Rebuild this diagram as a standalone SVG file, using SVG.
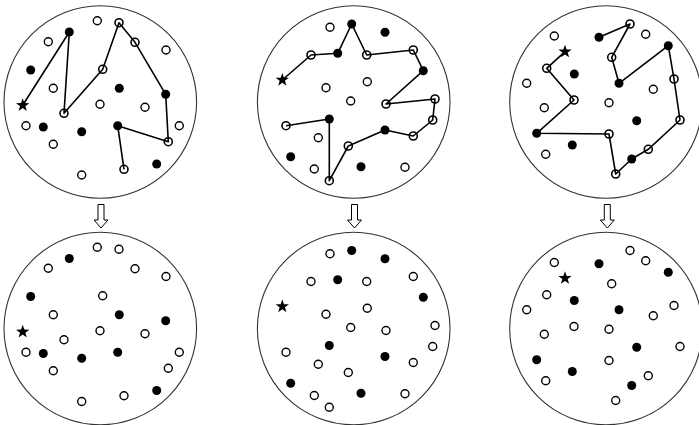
<svg xmlns="http://www.w3.org/2000/svg" width="699" height="425" viewBox="0 0 699 425">
<style>
.panel{fill:#fff;stroke:#333;stroke-width:1.1}
.o{fill:#fff;stroke:#000;stroke-width:1.4}
.p{fill:none;stroke:#000;stroke-width:1.6}
.f{fill:#000}
.path{fill:none;stroke:#000;stroke-width:1.6;stroke-linejoin:round}
.arrow{fill:#fff;stroke:#000;stroke-width:1}
</style>
<defs>
<path id="star" d="M0,-7 L1.65,-2.27 L6.66,-2.16 L2.66,0.87 L4.11,5.66 L0,2.8 L-4.11,5.66 L-2.66,0.87 L-6.66,-2.16 L-1.65,-2.27 Z" fill="#000"/>
</defs>
<rect width="699" height="425" fill="#fff"/>

<g id="panel-1-top">
<circle class="panel" cx="100.3" cy="102" r="96.3"/>
</g>
<g id="panel-2-top">
<circle class="panel" cx="353.7" cy="102" r="96.3"/>
</g>
<g id="panel-3-top">
<circle class="panel" cx="606" cy="102" r="96.3"/>
</g>

<g id="connectors">
<polyline class="path" points="22.7,105.3 69.3,32 64,113.3 102.7,69.3 119,22.7 135,42.3 165.7,94.3 168.3,141.7 117.7,125.7 124,169.3"/>
<polyline class="path" points="282.3,80 311,55 337.7,53.3 351.7,24 366.7,55 413.3,50 423.3,70.7 386,104 435,99 432.7,120 413.3,136 385,130 348.3,146 329.3,180.7 329.3,119 286,125.7"/>
<polyline class="path" points="599,37.3 630,24 611.7,57.3 619,83.3 668.3,45.7 674,79 680,120 648.3,149.3 631.7,159 615.7,174 609,134 536.7,133.3 574,100 546.7,68.3 565,51.7"/>
<polygon class="arrow" points="98,204.5 104,204.5 104,220 108,220 101,228 94,220 98,220"/>
<polygon class="arrow" points="351.5,204.5 357.5,204.5 357.5,220 361.5,220 354.5,228 347.5,220 351.5,220"/>
<polygon class="arrow" points="604.3,204.5 610.3,204.5 610.3,220 614.3,220 607.3,228 600.3,220 604.3,220"/>
</g>

<g id="nodes-1-top">
<circle class="o" cx="97.3" cy="20.7" r="4"/><circle class="o" cx="48.3" cy="41.7" r="4"/><circle class="o" cx="166" cy="50" r="4"/><circle class="o" cx="53.3" cy="88.3" r="4"/><circle class="o" cx="100" cy="104.3" r="4"/><circle class="o" cx="145" cy="107.3" r="4"/><circle class="o" cx="26" cy="125.7" r="4"/><circle class="o" cx="179.3" cy="125.7" r="4"/><circle class="o" cx="53.3" cy="144.3" r="4"/><circle class="o" cx="81.7" cy="175" r="4"/>
<circle class="p" cx="119" cy="22.7" r="4"/><circle class="p" cx="135" cy="42.3" r="4"/><circle class="p" cx="102.7" cy="69.3" r="4"/><circle class="p" cx="64" cy="113.3" r="4"/><circle class="p" cx="168.3" cy="141.7" r="4"/><circle class="p" cx="124" cy="169.3" r="4"/>
<circle class="f" cx="69.3" cy="32" r="4.5"/><circle class="f" cx="30.7" cy="70" r="4.5"/><circle class="f" cx="119.3" cy="88.3" r="4.5"/><circle class="f" cx="165.7" cy="94.3" r="4.5"/><circle class="f" cx="43.3" cy="127" r="4.5"/><circle class="f" cx="81.7" cy="131.7" r="4.5"/><circle class="f" cx="117.7" cy="125.7" r="4.5"/><circle class="f" cx="156.7" cy="164" r="4.5"/>
<use href="#star" x="22.7" y="105.3"/>
</g>

<g id="nodes-2-top">
<circle class="o" cx="330" cy="27.3" r="4"/><circle class="o" cx="326" cy="87.7" r="4"/><circle class="o" cx="367.3" cy="81.7" r="4"/><circle class="o" cx="350.7" cy="101" r="4"/><circle class="o" cx="318.3" cy="137.7" r="4"/><circle class="o" cx="314.3" cy="169" r="4"/><circle class="o" cx="405" cy="167.3" r="4"/>
<circle class="p" cx="311" cy="55" r="4"/><circle class="p" cx="366.7" cy="55" r="4"/><circle class="p" cx="413.3" cy="50" r="4"/><circle class="p" cx="386" cy="104" r="4"/><circle class="p" cx="435" cy="99" r="4"/><circle class="p" cx="432.7" cy="120" r="4"/><circle class="p" cx="413.3" cy="136" r="4"/><circle class="p" cx="348.3" cy="146" r="4"/><circle class="p" cx="329.3" cy="180.7" r="4"/><circle class="p" cx="286" cy="125.7" r="4"/>
<circle class="f" cx="385" cy="32.3" r="4.5"/><circle class="f" cx="290.7" cy="156.7" r="4.5"/><circle class="f" cx="361" cy="166.7" r="4.5"/><circle class="f" cx="337.7" cy="53.3" r="4.5"/><circle class="f" cx="351.7" cy="24" r="4.5"/><circle class="f" cx="423.3" cy="70.7" r="4.5"/><circle class="f" cx="385" cy="130" r="4.5"/><circle class="f" cx="329.3" cy="119" r="4.5"/>
<use href="#star" x="282.3" y="80"/>
</g>

<g id="nodes-3-top">
<circle class="o" cx="554.3" cy="36" r="4"/><circle class="o" cx="645.7" cy="34.3" r="4"/><circle class="o" cx="526.7" cy="83.3" r="4"/><circle class="o" cx="653.3" cy="89.3" r="4"/><circle class="o" cx="544.3" cy="107.7" r="4"/><circle class="o" cx="609" cy="102.7" r="4"/><circle class="o" cx="545.7" cy="154.3" r="4"/>
<circle class="p" cx="630" cy="24" r="4"/><circle class="p" cx="611.7" cy="57.3" r="4"/><circle class="p" cx="674" cy="79" r="4"/><circle class="p" cx="680" cy="120" r="4"/><circle class="p" cx="648.3" cy="149.3" r="4"/><circle class="p" cx="615.7" cy="174" r="4"/><circle class="p" cx="609" cy="134" r="4"/><circle class="p" cx="574" cy="100" r="4"/><circle class="p" cx="546.7" cy="68.3" r="4"/>
<circle class="f" cx="574.3" cy="74" r="4.5"/><circle class="f" cx="636.7" cy="120.7" r="4.5"/><circle class="f" cx="572.3" cy="145" r="4.5"/><circle class="f" cx="599" cy="37.3" r="4.5"/><circle class="f" cx="619" cy="83.3" r="4.5"/><circle class="f" cx="668.3" cy="45.7" r="4.5"/><circle class="f" cx="631.7" cy="159" r="4.5"/><circle class="f" cx="536.7" cy="133.3" r="4.5"/>
<use href="#star" x="565" y="51.7"/>
</g>

<g id="panel-1-bottom" transform="translate(0,226.5)">
<circle class="panel" cx="100.3" cy="102" r="96.3"/>
<circle class="o" cx="97.3" cy="20.7" r="4"/><circle class="o" cx="48.3" cy="41.7" r="4"/><circle class="o" cx="166" cy="50" r="4"/><circle class="o" cx="53.3" cy="88.3" r="4"/><circle class="o" cx="100" cy="104.3" r="4"/><circle class="o" cx="145" cy="107.3" r="4"/><circle class="o" cx="26" cy="125.7" r="4"/><circle class="o" cx="179.3" cy="125.7" r="4"/><circle class="o" cx="53.3" cy="144.3" r="4"/><circle class="o" cx="81.7" cy="175" r="4"/>
<circle class="o" cx="119" cy="22.7" r="4"/><circle class="o" cx="135" cy="42.3" r="4"/><circle class="o" cx="102.7" cy="69.3" r="4"/><circle class="o" cx="64" cy="113.3" r="4"/><circle class="o" cx="168.3" cy="141.7" r="4"/><circle class="o" cx="124" cy="169.3" r="4"/>
<circle class="f" cx="69.3" cy="32" r="4.5"/><circle class="f" cx="30.7" cy="70" r="4.5"/><circle class="f" cx="119.3" cy="88.3" r="4.5"/><circle class="f" cx="165.7" cy="94.3" r="4.5"/><circle class="f" cx="43.3" cy="127" r="4.5"/><circle class="f" cx="81.7" cy="131.7" r="4.5"/><circle class="f" cx="117.7" cy="125.7" r="4.5"/><circle class="f" cx="156.7" cy="164" r="4.5"/>
<use href="#star" x="22.7" y="105.3"/>
</g>

<g id="panel-2-bottom" transform="translate(0,226.5)">
<circle class="panel" cx="353.7" cy="102" r="96.3"/>
<circle class="o" cx="330" cy="27.3" r="4"/><circle class="o" cx="326" cy="87.7" r="4"/><circle class="o" cx="367.3" cy="81.7" r="4"/><circle class="o" cx="350.7" cy="101" r="4"/><circle class="o" cx="318.3" cy="137.7" r="4"/><circle class="o" cx="314.3" cy="169" r="4"/><circle class="o" cx="405" cy="167.3" r="4"/>
<circle class="o" cx="311" cy="55" r="4"/><circle class="o" cx="366.7" cy="55" r="4"/><circle class="o" cx="413.3" cy="50" r="4"/><circle class="o" cx="386" cy="104" r="4"/><circle class="o" cx="435" cy="99" r="4"/><circle class="o" cx="432.7" cy="120" r="4"/><circle class="o" cx="413.3" cy="136" r="4"/><circle class="o" cx="348.3" cy="146" r="4"/><circle class="o" cx="329.3" cy="180.7" r="4"/><circle class="o" cx="286" cy="125.7" r="4"/>
<circle class="f" cx="385" cy="32.3" r="4.5"/><circle class="f" cx="290.7" cy="156.7" r="4.5"/><circle class="f" cx="361" cy="166.7" r="4.5"/><circle class="f" cx="337.7" cy="53.3" r="4.5"/><circle class="f" cx="351.7" cy="24" r="4.5"/><circle class="f" cx="423.3" cy="70.7" r="4.5"/><circle class="f" cx="385" cy="130" r="4.5"/><circle class="f" cx="329.3" cy="119" r="4.5"/>
<use href="#star" x="282.3" y="80"/>
</g>

<g id="panel-3-bottom" transform="translate(0,226.5)">
<circle class="panel" cx="606" cy="102" r="96.3"/>
<circle class="o" cx="554.3" cy="36" r="4"/><circle class="o" cx="645.7" cy="34.3" r="4"/><circle class="o" cx="526.7" cy="83.3" r="4"/><circle class="o" cx="653.3" cy="89.3" r="4"/><circle class="o" cx="544.3" cy="107.7" r="4"/><circle class="o" cx="609" cy="102.7" r="4"/><circle class="o" cx="545.7" cy="154.3" r="4"/>
<circle class="o" cx="630" cy="24" r="4"/><circle class="o" cx="611.7" cy="57.3" r="4"/><circle class="o" cx="674" cy="79" r="4"/><circle class="o" cx="680" cy="120" r="4"/><circle class="o" cx="648.3" cy="149.3" r="4"/><circle class="o" cx="615.7" cy="174" r="4"/><circle class="o" cx="609" cy="134" r="4"/><circle class="o" cx="574" cy="100" r="4"/><circle class="o" cx="546.7" cy="68.3" r="4"/>
<circle class="f" cx="574.3" cy="74" r="4.5"/><circle class="f" cx="636.7" cy="120.7" r="4.5"/><circle class="f" cx="572.3" cy="145" r="4.5"/><circle class="f" cx="599" cy="37.3" r="4.5"/><circle class="f" cx="619" cy="83.3" r="4.5"/><circle class="f" cx="668.3" cy="45.7" r="4.5"/><circle class="f" cx="631.7" cy="159" r="4.5"/><circle class="f" cx="536.7" cy="133.3" r="4.5"/>
<use href="#star" x="565" y="51.7"/>
</g>
</svg>
